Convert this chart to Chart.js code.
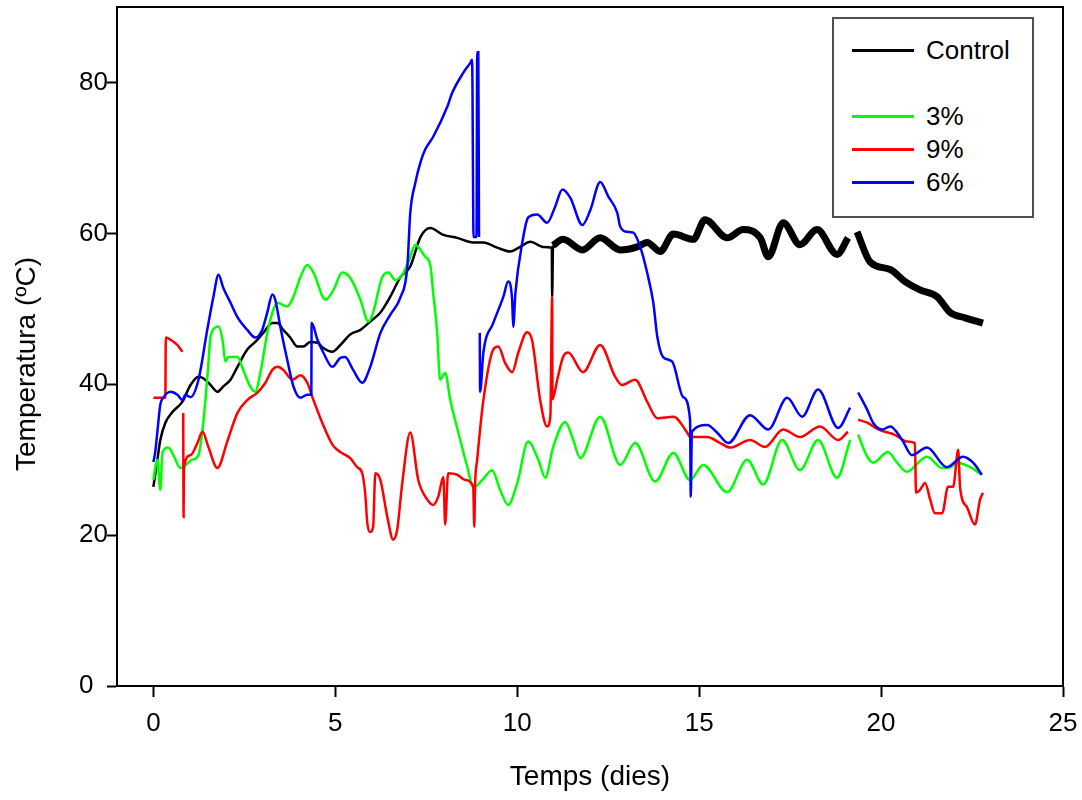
<!DOCTYPE html>
<html>
<head>
<meta charset="utf-8">
<script src="https://cdn.jsdelivr.net/npm/chart.js@4.4.1/dist/chart.umd.min.js"></script>
<style>
body { margin: 0; background: #fff; }
#contenidor { position: relative; width: 1082px; height: 800px; font-family: "Liberation Sans", Arial, sans-serif; color: #000; }
canvas { position: absolute; left: 0; top: 0; }
.titol { position: absolute; font-size: 28px; white-space: nowrap; }
#titolX { left: 590px; top: 776px; transform: translate(-50%, -50%); }
#titolY { left: 26px; top: 364px; transform: translate(-50%, -50%) rotate(-90deg); }
#llegenda { position: absolute; left: 832px; top: 17px; width: 198px; height: 197px; border: 2px solid #505050; background: #fff; }
.item { position: absolute; left: 0; width: 190px; height: 30px; }
.item .linia { position: absolute; left: 18px; width: 62px; height: 3px; top: 14px; }
.item span { position: absolute; left: 92px; top: 0; font-size: 26px; line-height: 30px; }
</style>
</head>
<body>
<div id="contenidor">
    <canvas id="grafica" width="1082" height="800"></canvas>
    <div class="titol" id="titolX">Temps (dies)</div>
    <div class="titol" id="titolY">Temperatura (ºC)</div>
    <div id="llegenda">
        <div class="item" style="top:16px"><div class="linia" style="background:#000"></div><span>Control</span></div>
        <div class="item" style="top:82px"><div class="linia" style="background:#00ff00"></div><span>3%</span></div>
        <div class="item" style="top:115px"><div class="linia" style="background:#ff0000"></div><span>9%</span></div>
        <div class="item" style="top:148px"><div class="linia" style="background:#0000ff"></div><span>6%</span></div>
    </div>
</div>
<script>
// dades: [dies, temperatura]
const control = [[0,26.4],[0.11,30.0],[0.19,32.6],[0.33,34.9],[0.52,36.3],[0.8,37.7],[1.02,39.9],[1.24,41.0],[1.37,40.8],[1.57,39.9],[1.76,39.0],[1.92,39.7],[2.12,40.6],[2.31,42.3],[2.58,44.6],[2.8,45.6],[3.02,46.8],[3.27,48.1],[3.41,48.1],[3.57,47.2],[3.76,46.2],[3.96,45.0],[4.12,45.0],[4.31,45.6],[4.51,45.5],[4.67,44.8],[4.92,44.3],[5.14,45.2],[5.41,46.6],[5.69,47.2],[5.96,48.3],[6.24,49.5],[6.51,51.6],[6.79,54.2],[7.06,55.6],[7.34,59.5],[7.61,60.7],[7.97,59.8],[8.35,59.4],[8.79,58.8],[9.07,58.8],[9.45,58.1],[9.81,57.6],[10.08,58.2],[10.36,58.9],[10.71,58.2],[10.95,58.1],[10.96,51.6],[10.98,58.4]];

// tram final del control, molt sorollós (línia gruixuda)
const controlGruix = [[10.98,58.4],[11.26,59.2],[11.79,57.8],[12.28,59.4],[12.83,57.8],[13.3,58.2],[13.57,58.8],[13.93,57.6],[14.29,59.9],[14.84,59.2],[15.16,61.8],[15.77,59.4],[16.21,60.5],[16.68,59.4],[16.9,56.9],[17.31,61.4],[17.77,58.5],[18.24,60.5],[18.79,57.2],[19.09,59.4],[19.2,null],[19.34,60.2],[19.7,56.2],[20.25,55.2],[20.66,53.6],[21.07,52.5],[21.54,51.6],[21.9,49.5],[22.31,48.8],[22.8,48.1]];

const verd3 = [[0,27.3],[0.05,28.9],[0.11,30.0],[0.19,26.0],[0.25,31.0],[0.41,31.6],[0.55,30.6],[0.74,28.9],[1.07,30.0],[1.24,30.6],[1.35,34.0],[1.43,37.9],[1.5,42.0],[1.57,46.3],[1.7,47.5],[1.79,47.7],[1.9,45.9],[1.98,43.0],[2.06,43.6],[2.31,43.6],[2.47,41.9],[2.66,39.7],[2.8,39.0],[2.94,41.5],[3.13,46.8],[3.3,49.9],[3.41,50.8],[3.68,50.3],[3.85,51.6],[4.04,54.2],[4.23,55.8],[4.4,54.8],[4.73,51.2],[4.95,52.5],[5.19,54.8],[5.41,54.1],[5.69,51.2],[5.91,48.3],[6.04,49.5],[6.29,54.2],[6.46,54.8],[6.65,53.8],[6.84,54.5],[7.01,56.2],[7.2,58.5],[7.28,58.2],[7.47,56.9],[7.61,55.8],[7.69,52.1],[7.8,46.8],[7.88,40.6],[8.02,41.5],[8.16,37.9],[8.38,33.6],[8.63,29.0],[8.79,26.3],[9.04,27.3],[9.31,28.6],[9.53,26.0],[9.75,24.0],[10.0,26.9],[10.3,32.4],[10.58,30.0],[10.77,27.6],[10.99,31.7],[11.32,35.0],[11.54,32.6],[11.73,30.2],[12.28,35.7],[12.83,29.3],[13.24,32.2],[13.79,27.1],[14.29,30.9],[14.75,27.3],[15.11,29.3],[15.77,25.7],[16.32,30.0],[16.76,26.7],[17.28,32.6],[17.77,28.6],[18.27,32.6],[18.79,27.6],[19.15,32.6],[19.25,null],[19.37,33.3],[19.62,30.4],[19.78,29.6],[20.19,31.0],[20.44,29.6],[20.71,28.4],[21.26,30.4],[21.68,28.9],[21.9,29.0],[22.09,29.6],[22.45,29.0],[22.77,28.0]];

const vermell9 = [[0,38.2],[0.33,38.2],[0.34,46.2],[0.47,45.9],[0.66,45.2],[0.8,44.3],[0.81,null],[0.82,36.2],[0.83,22.4],[0.84,28.9],[1.02,30.6],[1.21,32.2],[1.35,33.7],[1.51,31.7],[1.76,28.9],[2.03,32.4],[2.31,36.2],[2.58,37.9],[2.86,38.9],[3.08,40.2],[3.27,41.9],[3.41,42.3],[3.57,41.9],[3.82,40.6],[4.04,41.2],[4.23,40.2],[4.4,37.9],[4.64,34.9],[4.92,32.0],[5.14,31.0],[5.41,30.2],[5.6,29.0],[5.74,28.2],[5.82,25.6],[5.88,21.6],[5.96,20.4],[6.04,21.1],[6.1,28.2],[6.24,27.3],[6.43,22.4],[6.59,19.4],[6.7,20.7],[6.84,26.9],[7.06,33.6],[7.28,27.3],[7.53,24.7],[7.69,24.0],[7.83,25.1],[7.97,27.7],[8.02,21.4],[8.1,28.2],[8.35,28.0],[8.57,27.3],[8.79,26.4],[8.82,21.1],[8.84,26.4],[8.9,30.0],[9.07,37.9],[9.34,44.6],[9.48,45.0],[9.67,42.8],[9.86,41.6],[10.03,44.2],[10.27,46.9],[10.41,45.8],[10.63,37.9],[10.82,34.4],[10.91,35.7],[10.96,51.6],[10.97,38.0],[11.1,40.6],[11.26,43.6],[11.4,44.2],[11.81,41.6],[12.28,45.2],[12.69,41.0],[12.88,39.9],[13.24,40.6],[13.57,37.7],[13.85,35.5],[14.29,35.7],[14.67,33.6],[14.75,33.0],[15.22,33.0],[15.58,32.2],[15.85,31.6],[16.4,32.6],[16.81,31.7],[17.31,34.0],[17.77,33.0],[18.32,34.4],[18.82,32.6],[19.09,33.7],[19.2,null],[19.37,35.3],[19.62,34.9],[19.92,34.0],[20.38,33.3],[20.71,32.4],[20.93,32.2],[20.96,25.6],[21.07,26.0],[21.21,26.9],[21.35,24.7],[21.48,22.9],[21.68,22.9],[21.84,26.4],[21.98,26.4],[22.12,31.3],[22.17,26.4],[22.36,23.7],[22.58,21.4],[22.72,24.7],[22.8,25.6]];

const blau6 = [[0,29.7],[0.05,31.0],[0.11,33.7],[0.19,37.3],[0.27,38.2],[0.47,39.0],[0.66,38.6],[0.8,37.9],[0.88,38.6],[1.02,38.3],[1.24,40.6],[1.48,47.2],[1.65,51.6],[1.79,54.5],[1.92,52.8],[2.12,50.8],[2.31,48.9],[2.58,47.2],[2.8,46.2],[2.99,47.2],[3.13,49.5],[3.27,51.9],[3.35,51.2],[3.49,47.6],[3.68,43.2],[3.85,39.7],[4.04,38.2],[4.23,38.6],[4.34,38.6],[4.35,48.1],[4.51,45.9],[4.67,44.2],[4.92,42.3],[5.14,43.5],[5.27,43.6],[5.49,41.9],[5.74,40.2],[5.96,42.3],[6.24,46.8],[6.51,49.2],[6.79,51.5],[6.98,55.6],[7.06,62.7],[7.2,66.7],[7.34,69.4],[7.47,71.1],[7.69,72.8],[8.08,76.8],[8.21,78.6],[8.52,81.3],[8.71,82.6],[8.76,83.0],[8.8,59.5],[8.88,59.5],[8.9,84.0],[8.93,84.0],[8.95,59.5],[8.96,null],[8.97,46.8],[8.98,39.0],[9.07,44.2],[9.34,48.1],[9.62,51.6],[9.75,53.6],[9.86,51.2],[9.89,47.6],[9.95,52.1],[10.14,58.8],[10.3,62.1],[10.55,62.5],[10.82,61.4],[11.04,63.5],[11.24,65.8],[11.46,64.7],[11.79,61.1],[12.01,63.1],[12.28,66.8],[12.5,64.9],[12.75,62.7],[12.83,60.9],[13.02,60.2],[13.19,60.1],[13.38,58.2],[13.57,54.8],[13.74,50.8],[13.85,46.3],[14.01,43.6],[14.26,43.0],[14.56,38.3],[14.75,35.3],[14.77,25.1],[14.8,33.7],[15.22,34.6],[15.49,33.6],[15.8,32.2],[16.4,35.9],[16.9,34.0],[17.42,38.2],[17.83,35.7],[18.27,39.3],[18.82,34.2],[19.15,36.9],[19.25,null],[19.37,38.9],[19.62,36.6],[19.78,34.9],[20.03,34.0],[20.25,34.4],[20.58,32.6],[20.85,30.6],[21.26,31.6],[21.81,29.0],[22.25,30.4],[22.53,29.6],[22.77,28.0]];

const ticksDies = [0, 5, 10, 15, 20, 25];
const ticksTemp = [0, 20, 40, 60, 80];

document.addEventListener('DOMContentLoaded', function () {
    dibuixarGrafica();
});

function punts(llista) {
    return llista.map(p => ({ x: p[0], y: p[1] }));
}

function serie(llista, color, gruix) {
    return {
        data: punts(llista),
        borderColor: color,
        borderWidth: gruix,
        pointRadius: 0,
        cubicInterpolationMode: 'monotone',
        fill: false,
        spanGaps: false
    };
}

// marc superior i dret del gràfic
const marc = {
    id: 'marc',
    afterDatasetsDraw(chart) {
        const { ctx, chartArea: a } = chart;
        ctx.save();
        ctx.strokeStyle = '#000';
        ctx.lineWidth = 2;
        ctx.beginPath();
        ctx.moveTo(a.left, a.top);
        ctx.lineTo(a.right, a.top);
        ctx.lineTo(a.right, a.bottom);
        ctx.stroke();
        ctx.restore();
    }
};

function dibuixarGrafica() {
    Chart.defaults.font.family = '"Liberation Sans", Arial, sans-serif';
    Chart.defaults.color = '#000';

    const config = {
        type: 'line',
        data: {
            datasets: [
                serie(blau6, '#0000ff', 2.5),
                serie(vermell9, '#ff0000', 2.5),
                serie(verd3, '#00ff00', 2.5),
                serie(controlGruix, '#000000', 7),
                serie(control, '#000000', 2.5)
            ]
        },
        options: {
            responsive: false,
            animation: false,
            devicePixelRatio: 1,
            layout: { padding: { left: 79, top: 7, right: 19, bottom: 0 } },
            plugins: { legend: { display: false }, tooltip: { enabled: false } },
            scales: {
                x: {
                    type: 'linear',
                    min: -1,
                    max: 25,
                    border: { display: true, color: '#000', width: 2 },
                    grid: { drawOnChartArea: false, drawTicks: true, tickLength: 11, tickWidth: 2, tickColor: '#000' },
                    ticks: { font: { size: 26 }, padding: 11, maxRotation: 0 },
                    afterBuildTicks: s => { s.ticks = ticksDies.map(v => ({ value: v })); },
                    afterFit: s => {
                        s.height = 114;
                        s.paddingLeft = 0;
                        s.paddingRight = 0;
                    }
                },
                y: {
                    type: 'linear',
                    min: 0,
                    max: 90,
                    border: { display: true, color: '#000', width: 2 },
                    grid: { drawOnChartArea: false, drawTicks: true, tickLength: 10, tickWidth: 2, tickColor: '#000' },
                    ticks: { font: { size: 26 }, crossAlign: 'far' },
                    afterBuildTicks: s => { s.ticks = ticksTemp.map(v => ({ value: v })); },
                    afterFit: s => {
                        s.width = 38;
                        s.paddingTop = 0;
                        s.paddingBottom = 0;
                    }
                }
            }
        },
        plugins: [marc]
    };

    const ctx = document.getElementById('grafica').getContext('2d');
    new Chart(ctx, config);
}
</script>
</body>
</html>
